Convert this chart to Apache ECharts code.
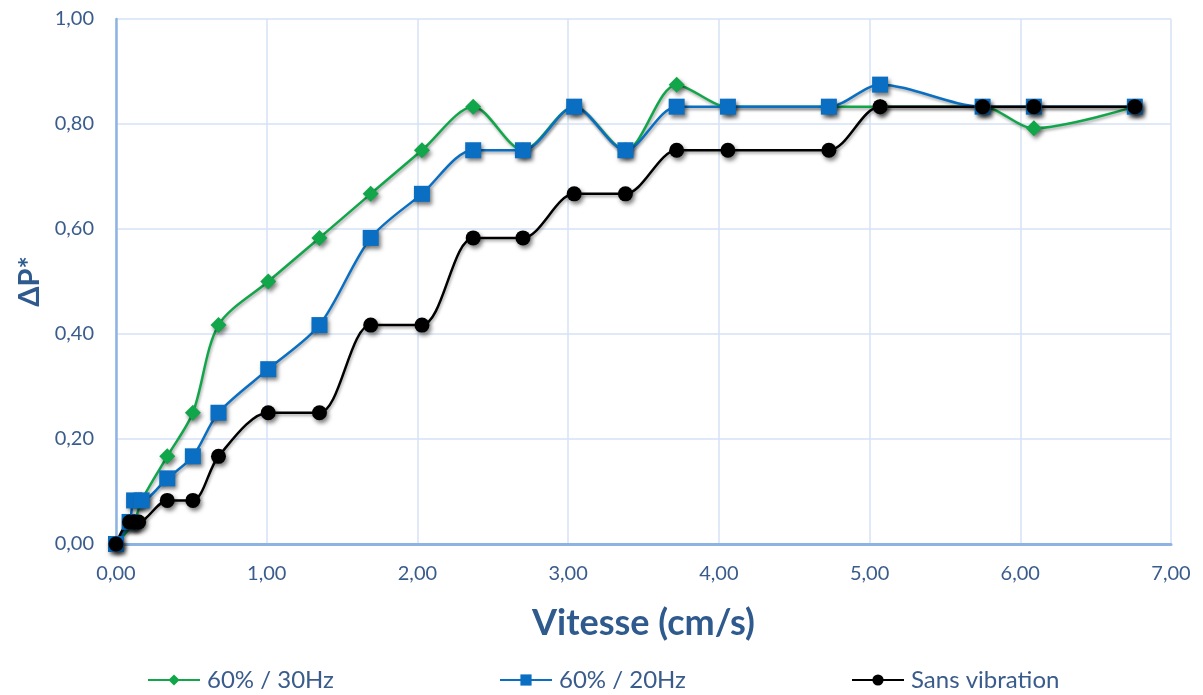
<!DOCTYPE html>
<html>
<head>
<meta charset="utf-8">
<script src="https://cdn.jsdelivr.net/npm/echarts@6/dist/echarts.min.js"></script>
<style>
    html, body { margin: 0; padding: 0; background: #fff; }
    #chart { width: 1203px; height: 695px; }
</style>
</head>
<body>
<div id="chart"></div>
<script>
// données
var vitesseVert = [0, 0.12, 0.17, 0.34, 0.51, 0.68, 1.01, 1.35, 1.69, 2.03, 2.37, 2.70, 3.04, 3.38, 3.72, 4.06, 4.73, 5.07, 5.75, 6.09, 6.76];
var dpVert = [0, 0.042, 0.083, 0.167, 0.25, 0.417, 0.5, 0.583, 0.667, 0.75, 0.833, 0.75, 0.833, 0.75, 0.875, 0.833, 0.833, 0.833, 0.833, 0.792, 0.833];

var vitesseBleu = [0, 0.09, 0.12, 0.17, 0.34, 0.51, 0.68, 1.01, 1.35, 1.69, 2.03, 2.37, 2.70, 3.04, 3.38, 3.72, 4.06, 4.73, 5.07, 5.75, 6.09, 6.76];
var dpBleu = [0, 0.042, 0.083, 0.083, 0.125, 0.167, 0.25, 0.333, 0.417, 0.583, 0.667, 0.75, 0.75, 0.833, 0.75, 0.833, 0.833, 0.833, 0.875, 0.833, 0.833, 0.833];

var vitesseNoir = [0, 0.09, 0.12, 0.15, 0.34, 0.51, 0.68, 1.01, 1.35, 1.69, 2.03, 2.37, 2.70, 3.04, 3.38, 3.72, 4.06, 4.73, 5.07, 5.75, 6.09, 6.76];
var dpNoir = [0, 0.042, 0.042, 0.042, 0.083, 0.083, 0.167, 0.25, 0.25, 0.417, 0.417, 0.583, 0.583, 0.667, 0.667, 0.75, 0.75, 0.75, 0.833, 0.833, 0.833, 0.833];

var nomsSeries = ['60% / 30Hz', '60% / 20Hz', 'Sans vibration'];
var couleurs = ['#12A64A', '#0A6FC2', '#000000'];
var symboles = ['diamond', 'rect', 'circle'];

var police = 'Lato, "Open Sans", sans-serif';
var couleurTexte = '#3A5C8C';

function paires(xs, ys) {
    var data = [];
    for (var i = 0; i < xs.length; i++) {
        data.push([xs[i], ys[i]]);
    }
    return data;
}

function virgule(v) {
    return v.toFixed(2).replace('.', ',');
}

function serie(index, xs, ys, taille) {
    return {
        name: nomsSeries[index],
        type: 'line',
        data: paires(xs, ys),
        smooth: 0.3,
        symbol: symboles[index],
        symbolSize: taille,
        color: couleurs[index],
        lineStyle: {
            width: 2.5,
            color: couleurs[index],
            shadowBlur: 3,
            shadowColor: 'rgba(0,0,0,0.35)',
            shadowOffsetX: 1,
            shadowOffsetY: 2
        },
        itemStyle: {
            color: couleurs[index],
            borderWidth: 0,
            shadowBlur: 4,
            shadowColor: 'rgba(0,0,0,0.5)',
            shadowOffsetX: 2,
            shadowOffsetY: 3
        },
        emphasis: { disabled: true },
        animation: false
    };
}

function legende(index, gauche) {
    return {
        data: [nomsSeries[index]],
        left: gauche,
        top: 665,
        padding: 0,
        itemWidth: 52,
        itemHeight: 14,
        textStyle: {
            fontFamily: police,
            fontSize: 24,
            lineHeight: 30,
            color: couleurTexte,
            padding: [0, 0, 0, 2]
        }
    };
}

var myChart = echarts.init(document.getElementById('chart'), null, { renderer: 'canvas' });

var option = {
    backgroundColor: '#ffffff',
    animation: false,
    grid: {
        left: 116,
        right: 32,
        top: 19,
        bottom: 151
    },
    legend: [
        legende(0, 147),
        legende(1, 499),
        legende(2, 851)
    ],
    xAxis: {
        type: 'value',
        min: 0,
        max: 7,
        interval: 1,
        name: 'Vitesse (cm/s)',
        nameLocation: 'middle',
        nameGap: 61,
        nameTextStyle: {
            fontFamily: police,
            fontSize: 36,
            fontWeight: 'bold',
            color: '#2E5A8E'
        },
        axisLine: { show: true, lineStyle: { color: '#8EB3E3', width: 3 } },
        axisTick: { show: false },
        splitLine: { show: true, lineStyle: { color: '#D6E2F4', width: 1.5 } },
        axisLabel: {
            formatter: virgule,
            margin: 20,
            fontFamily: police,
            fontSize: 20,
            color: couleurTexte
        }
    },
    yAxis: {
        type: 'value',
        min: 0,
        max: 1,
        interval: 0.2,
        name: 'ΔP*',
        nameLocation: 'middle',
        nameGap: 70,
        nameTextStyle: {
            fontFamily: police,
            fontSize: 29,
            fontWeight: 'bold',
            color: '#2E5A8E'
        },
        axisLine: { show: true, lineStyle: { color: '#8EB3E3', width: 2.5 } },
        axisTick: { show: false },
        splitLine: { show: true, lineStyle: { color: '#D6E2F4', width: 1.5 } },
        axisLabel: {
            formatter: virgule,
            margin: 22,
            fontFamily: police,
            fontSize: 20,
            color: couleurTexte
        }
    },
    series: [
        serie(0, vitesseVert, dpVert, 16),
        serie(1, vitesseBleu, dpBleu, 16),
        serie(2, vitesseNoir, dpNoir, 15)
    ]
};

myChart.setOption(option);
</script>
</body>
</html>
